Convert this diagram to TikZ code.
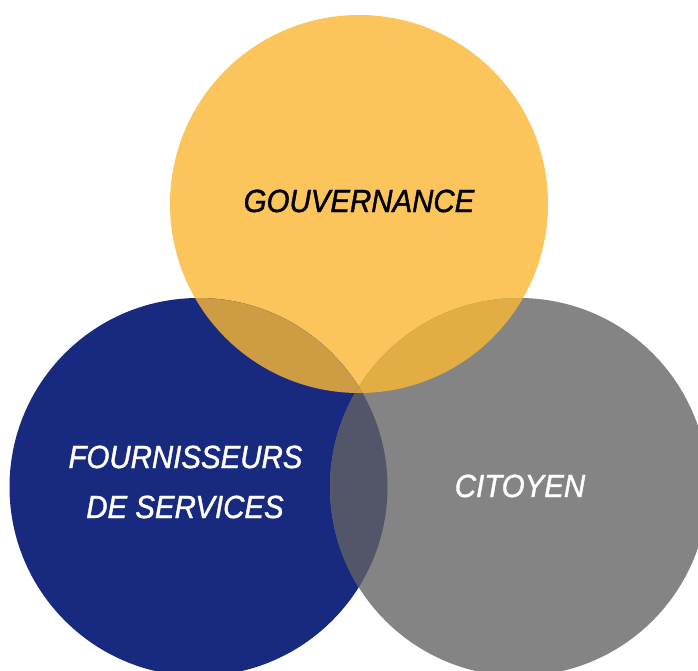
\documentclass[tikz,border=0pt]{standalone}
\usepackage{fontspec}
\newfontfamily\labfont[FakeStretch=0.92,FakeBold=1.3]{Liberation Sans}
\definecolor{cyellow}{HTML}{FBC55B}
\definecolor{cblue}{HTML}{182A7F}
\definecolor{cgray}{HTML}{848484}
\definecolor{cyb}{HTML}{CE9C42}
\definecolor{cyg}{HTML}{E2AD43}
\definecolor{cbg}{HTML}{535669}
\definecolor{cybg}{HTML}{C9A04E}
\tikzset{
  lab/.style={font=\labfont\itshape\fontsize{32}{36}\selectfont, anchor=base, inner sep=0pt},
}
\begin{document}
\begin{tikzpicture}[x=1pt,y=-1pt]
\useasboundingbox (0,0) rectangle (698,671);
\clip (0,0) rectangle (698,671);
\def\R{189}
\coordinate (cy) at (359,204);
\coordinate (cb) at (198.5,487);
\coordinate (cg) at (519,487);
\fill[cyellow] (cy) circle (\R);
\fill[cblue] (cb) circle (\R);
\fill[cgray] (cg) circle (\R);
\begin{scope}
  \clip (cy) circle (\R);
  \fill[cyb] (cb) circle (\R);
  \fill[cyg] (cg) circle (\R);
\end{scope}
\begin{scope}
  \clip (cb) circle (\R);
  \fill[cbg] (cg) circle (\R);
  \clip (cg) circle (\R);
  \fill[cybg] (cy) circle (\R);
\end{scope}
\node[lab, text=black] (gov) at (359,212) {GOUVERNANCE};
\node[lab, text=white] (four) at (185.5,468) {FOURNISSEURS};
\node[lab, text=white] (serv) at (185,518) {DE SERVICES};
\node[lab, text=white] (cit) at (520,497) {CITOYEN};
\end{tikzpicture}
\end{document}
